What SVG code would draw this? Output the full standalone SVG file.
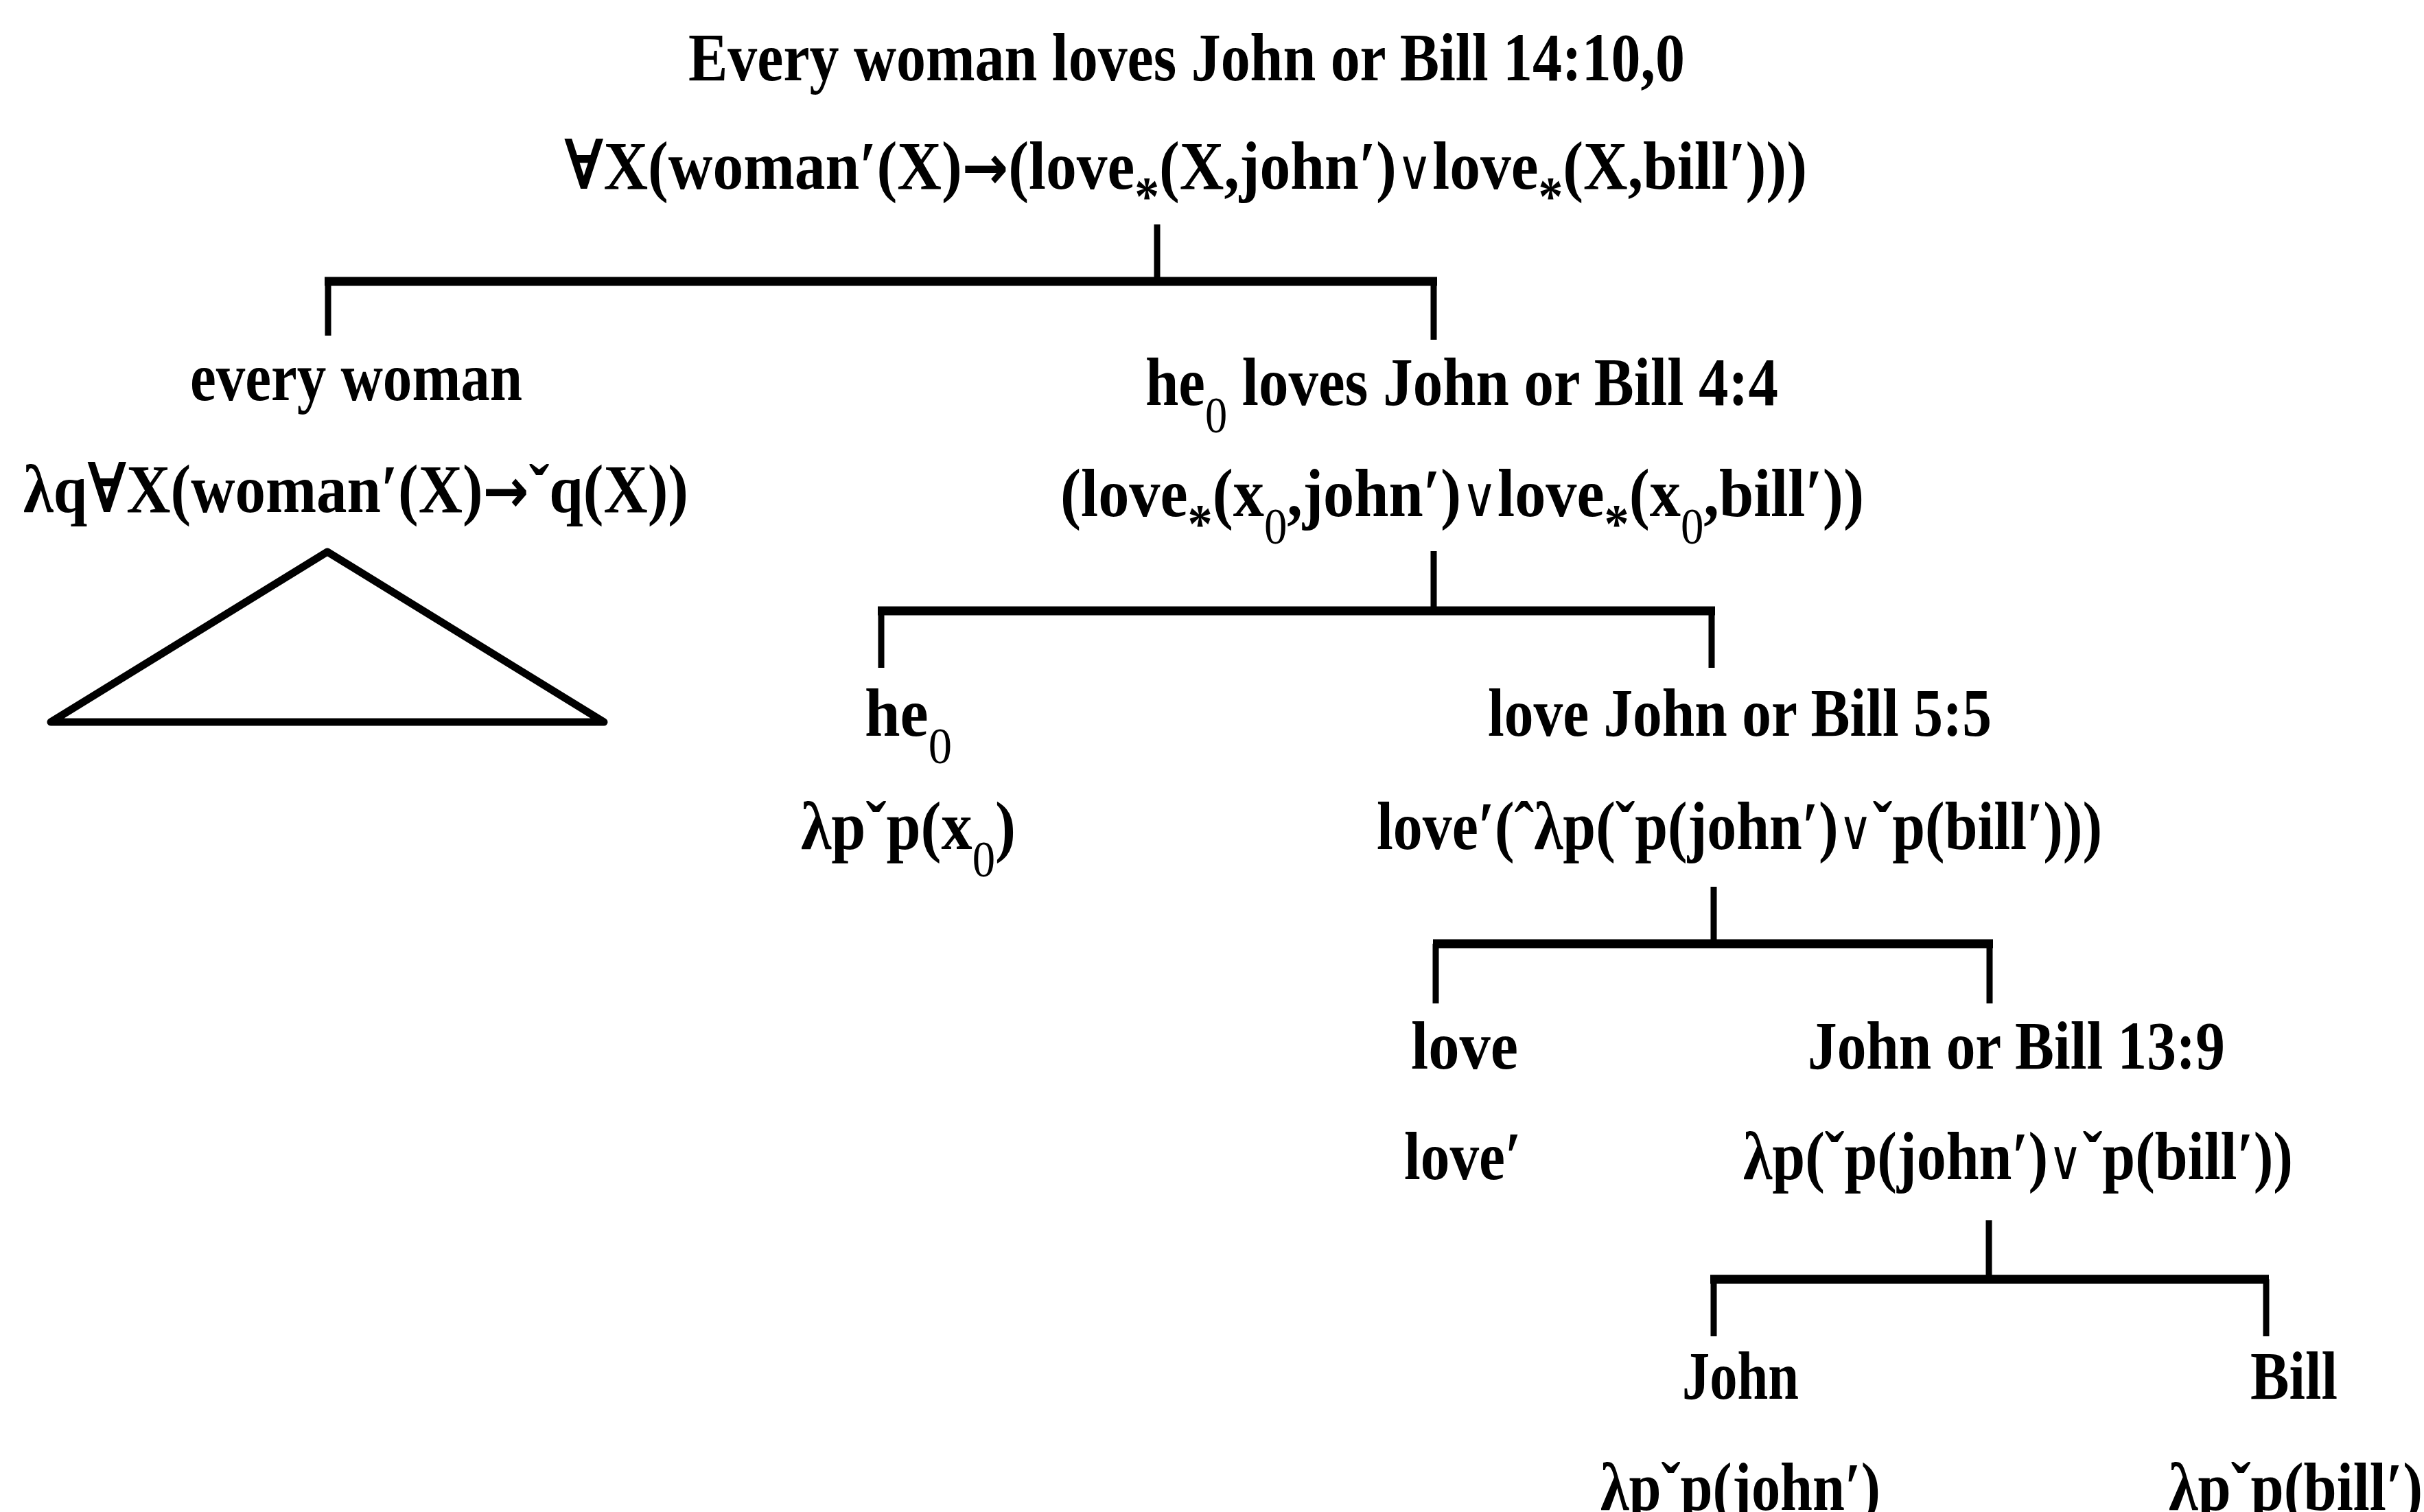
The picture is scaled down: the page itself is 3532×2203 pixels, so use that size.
<svg xmlns="http://www.w3.org/2000/svg" width="3532" height="2203" viewBox="0 0 3532 2203">
<style>
.t{font-family:"Liberation Serif","Times New Roman","DejaVu Serif",serif;font-weight:bold;font-size:100px;fill:#000}
.sub{font-weight:normal;font-size:74px}
.ast{font-size:80px}
.arr{font-family:"DejaVu Sans",sans-serif;font-weight:bold;font-size:90px}
.or{font-family:"DejaVu Serif",serif;font-weight:normal;font-size:80px}
.bar{stroke:#000;stroke-width:13;fill:none}
.v{stroke:#000;stroke-width:9;fill:none}
.tri{stroke:#000;stroke-width:11;fill:none;stroke-linejoin:round}
</style>
<rect width="3532" height="2203" fill="#fff"/>
<g id="connectors">
  <line class="v" x1="1686" y1="327" x2="1686" y2="410"/>
  <line class="bar" x1="473" y1="410" x2="2094" y2="410"/>
  <line class="v" x1="478" y1="410" x2="478" y2="489"/>
  <line class="v" x1="2089" y1="410" x2="2089" y2="495"/>

  <line class="v" x1="2089" y1="803" x2="2089" y2="890"/>
  <line class="bar" x1="1279" y1="890" x2="2499" y2="890"/>
  <line class="v" x1="1284" y1="890" x2="1284" y2="973"/>
  <line class="v" x1="2494" y1="890" x2="2494" y2="973"/>

  <line class="v" x1="2497" y1="1292" x2="2497" y2="1375"/>
  <line class="bar" x1="2088" y1="1375" x2="2904" y2="1375"/>
  <line class="v" x1="2092" y1="1375" x2="2092" y2="1462"/>
  <line class="v" x1="2899" y1="1375" x2="2899" y2="1462"/>

  <line class="v" x1="2898" y1="1778" x2="2898" y2="1864"/>
  <line class="bar" x1="2492" y1="1864" x2="3306" y2="1864"/>
  <line class="v" x1="2497" y1="1864" x2="2497" y2="1947"/>
  <line class="v" x1="3302" y1="1864" x2="3302" y2="1947"/>
</g>
<g id="n-root">
  <text class="t" x="1003" y="117" textLength="1452" lengthAdjust="spacingAndGlyphs">Every woman loves John or Bill 14:10,0</text>
  <text class="t" x="822" y="275" textLength="1811" lengthAdjust="spacingAndGlyphs">∀X(woman′(X)<tspan class="arr">→</tspan>(love<tspan class="ast" dy="38">*</tspan><tspan dy="-38">(X,john′)</tspan><tspan class="or">∨</tspan>love<tspan class="ast" dy="38">*</tspan><tspan dy="-38">(X,bill′)))</tspan></text>
</g>
<g id="n-every-woman">
  <text class="t" x="277" y="583" textLength="484" lengthAdjust="spacingAndGlyphs">every woman</text>
  <text class="t" x="34" y="746" textLength="969" lengthAdjust="spacingAndGlyphs">λq∀X(woman′(X)<tspan class="arr">→</tspan>ˇq(X))</text>
  <polygon class="tri" points="477,804 74,1052 880,1052"/>
</g>
<g id="n-he-loves">
  <text class="t" x="1669" y="590" textLength="922" lengthAdjust="spacingAndGlyphs">he<tspan class="sub" dy="40">0</tspan><tspan dy="-40"> loves John or Bill 4:4</tspan></text>
  <text class="t" x="1545" y="752" textLength="1171" lengthAdjust="spacingAndGlyphs">(love<tspan class="ast" dy="38">*</tspan><tspan dy="-38">(x</tspan><tspan class="sub" dy="40">0</tspan><tspan dy="-40">,john′)</tspan><tspan class="or">∨</tspan>love<tspan class="ast" dy="38">*</tspan><tspan dy="-38">(x</tspan><tspan class="sub" dy="40">0</tspan><tspan dy="-40">,bill′))</tspan></text>
</g>
<g id="n-he">
  <text class="t" x="1260" y="1072" textLength="127" lengthAdjust="spacingAndGlyphs">he<tspan class="sub" dy="40">0</tspan></text>
  <text class="t" x="1167" y="1237" textLength="313" lengthAdjust="spacingAndGlyphs">λpˇp(x<tspan class="sub" dy="40">0</tspan><tspan dy="-40">)</tspan></text>
</g>
<g id="n-love-john-or-bill">
  <text class="t" x="2168" y="1072" textLength="734" lengthAdjust="spacingAndGlyphs">love John or Bill 5:5</text>
  <text class="t" x="2006" y="1237" textLength="1057" lengthAdjust="spacingAndGlyphs">love′(ˆλp(ˇp(john′)<tspan class="or">∨</tspan>ˇp(bill′)))</text>
</g>
<g id="n-love">
  <text class="t" x="2056" y="1557" textLength="156" lengthAdjust="spacingAndGlyphs">love</text>
  <text class="t" x="2046" y="1718" textLength="171" lengthAdjust="spacingAndGlyphs">love′</text>
</g>
<g id="n-john-or-bill">
  <text class="t" x="2634" y="1557" textLength="608" lengthAdjust="spacingAndGlyphs">John or Bill 13:9</text>
  <text class="t" x="2540" y="1718" textLength="801" lengthAdjust="spacingAndGlyphs">λp(ˇp(john′)<tspan class="or">∨</tspan>ˇp(bill′))</text>
</g>
<g id="n-john">
  <text class="t" x="2451" y="2038" textLength="170" lengthAdjust="spacingAndGlyphs">John</text>
  <text class="t" x="2332" y="2200" textLength="408" lengthAdjust="spacingAndGlyphs">λpˇp(john′)</text>
</g>
<g id="n-bill">
  <text class="t" x="3279" y="2038" textLength="127" lengthAdjust="spacingAndGlyphs">Bill</text>
  <text class="t" x="3160" y="2200" textLength="370" lengthAdjust="spacingAndGlyphs">λpˇp(bill′)</text>
</g>
</svg>
